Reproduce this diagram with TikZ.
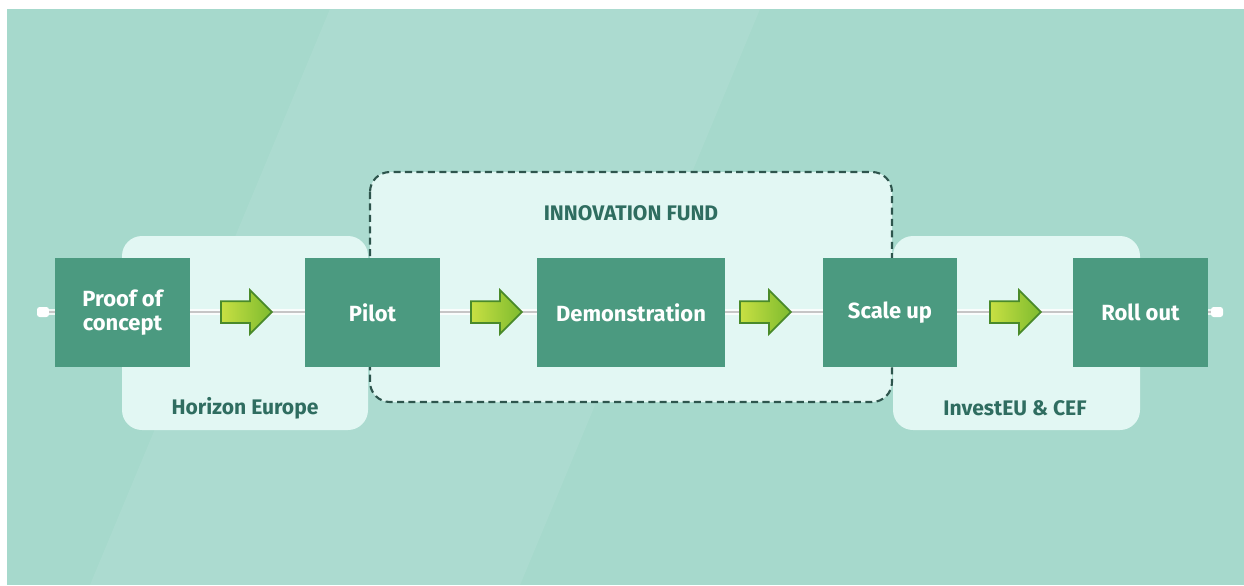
\documentclass[tikz,border=0pt]{standalone}
\usepackage{fontspec}
\setmainfont{Fira Sans}
\usepackage{xcolor}
\usetikzlibrary{shapes.arrows}
\definecolor{bgteal}{HTML}{A6D9CC}
\definecolor{mint}{HTML}{E2F7F3}
\definecolor{stagegreen}{HTML}{4B9A80}
\definecolor{labelgreen}{HTML}{2F6D60}
\definecolor{dashgreen}{HTML}{2E554D}
\definecolor{limeA}{HTML}{C8E043}
\definecolor{limeB}{HTML}{7DBB2E}
\definecolor{limeedge}{HTML}{4A8A2A}
\pgfdeclarelayer{back}
\pgfdeclarelayer{mid}
\pgfsetlayers{back,mid,main}

\begin{document}
\begin{tikzpicture}[x=0.02cm,y=-0.02cm]
\tikzset{stage/.style={fill=stagegreen,text=white,font=\bfseries\fontsize{12.5}{14}\selectfont,align=center,minimum height=2.18cm,inner sep=0pt}}
\tikzset{fundbox/.style={fill=mint,rounded corners=0.4cm}}
\tikzset{fundlabel/.style={text=labelgreen,font=\bfseries\fontsize{12}{14}\selectfont}}
\tikzset{stepdir/.style={single arrow,draw=limeedge,line width=1pt,left color=limeA,right color=limeB,minimum height=1.02cm,inner xsep=0pt,inner ysep=0.2cm,single arrow head extend=0.22cm}}
\tikzset{endcap/.style={fill=white,minimum width=0.24cm,minimum height=0.2cm,inner sep=0pt,rounded corners=1.5pt}}

\useasboundingbox (0,0) rectangle (1244,585);

% background and funding areas
\begin{pgfonlayer}{back}
\fill[white] (0,0) rectangle (1244,585);
\fill[bgteal] (7,9) rectangle (1244,585);
\fill[white,opacity=0.08] (330,9) -- (760,9) -- (520,585) -- (90,585) -- cycle;
\fill[fundbox] (122,236) rectangle (368,430);
\fill[fundbox] (893,236) rectangle (1140,430);
\filldraw[fundbox,draw=dashgreen,line width=1.2pt,dash pattern=on 4pt off 2.5pt] (370,172) rectangle (892,402);
\end{pgfonlayer}

\node[fundlabel] (horizon) at (245,408) {Horizon Europe};
\node[fundlabel] (investeu) at (1015,408) {InvestEU \& CEF};
\node[fundlabel] (innofund) at (631,213) {INNOVATION FUND};

% stages
\node[stage,minimum width=2.7cm] (proof) at (122.5,312.5) {Proof of\\concept};
\node[stage,minimum width=2.7cm] (pilot) at (372.5,312.5) {Pilot};
\node[stage,minimum width=3.76cm] (demo) at (631,312.5) {Demonstration};
\node[stage,minimum width=2.68cm] (scale) at (890,312.5) {Scale up};
\node[stage,minimum width=2.7cm] (rollout) at (1140.5,312.5) {Roll out};

\foreach \a/\x in {a1/241,a2/491,a3/760,a4/1010}
  \node[stepdir] (\a) at (\x,312) {};

% time line
\begin{pgfonlayer}{mid}
\node[endcap] (capL) at (43,312) {};
\node[endcap] (capR) at (1217,312) {};
\draw[white,opacity=0.8,line width=3.5pt] (capL) -- (capR);
\draw[gray!45,line width=0.6pt] (capL) -- (capR);
\end{pgfonlayer}

\end{tikzpicture}
\end{document}
